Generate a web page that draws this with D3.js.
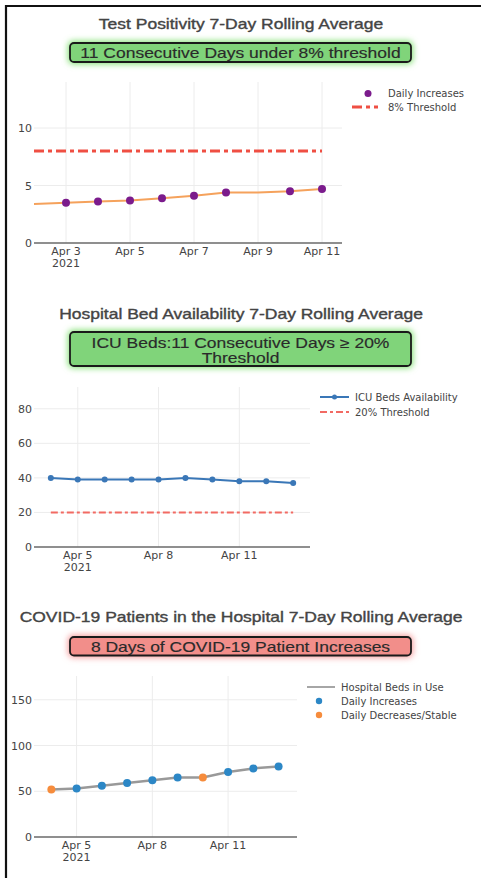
<html lang="en">
  <head>
    <meta charset="UTF-8" />
    <title>COVID-19 7-Day Rolling Averages</title>
    <script src="https://d3js.org/d3.v7.min.js"></script>
  </head>
  <style>
    body {
      margin: 0;
      background: white;
    }

    .title {
      font-family: "Liberation Sans", Arial, sans-serif;
      font-size: 14px;
      fill: #444;
      stroke: #444;
      stroke-width: 0.35px;
      text-anchor: middle;
    }

    .badge-text {
      font-family: "Liberation Sans", Arial, sans-serif;
      font-size: 14px;
      fill: #2a2a2a;
      stroke: #2a2a2a;
      stroke-width: 0.15px;
      text-anchor: middle;
    }

    .tick-text {
      font-family: "DejaVu Sans", Verdana, sans-serif;
      font-size: 11px;
      fill: #444;
    }

    .legend-text {
      font-family: "DejaVu Sans", Verdana, sans-serif;
      font-size: 10px;
      fill: #444;
    }
  </style>
  <body>
    <div id="viz"></div>
  </body>
  <footer>
    <script>
      // test positivity
      var posDates = ["2021-04-02", "2021-04-03", "2021-04-04", "2021-04-05", "2021-04-06",
        "2021-04-07", "2021-04-08", "2021-04-09", "2021-04-10", "2021-04-11"];
      var posValues = [3.4, 3.5, 3.6, 3.7, 3.9, 4.1, 4.4, 4.4, 4.5, 4.7];
      var posIncrease = [false, true, true, true, true, true, true, false, true, true];
      var posThreshold = 8;
      var posTicksX = ["2021-04-03", "2021-04-05", "2021-04-07", "2021-04-09", "2021-04-11"];
      var posTicksY = [0, 5, 10];

      // icu beds
      var icuDates = ["2021-04-04", "2021-04-05", "2021-04-06", "2021-04-07", "2021-04-08",
        "2021-04-09", "2021-04-10", "2021-04-11", "2021-04-12", "2021-04-13"];
      var icuValues = [40, 39, 39, 39, 39, 40, 39, 38, 38, 37];
      var icuThreshold = 20;
      var icuTicksX = ["2021-04-05", "2021-04-08", "2021-04-11"];
      var icuTicksY = [0, 20, 40, 60, 80];

      // covid patients in hospital
      var bedDates = icuDates;
      var bedValues = [52, 53, 56, 59, 62, 65, 65, 71, 75, 77];
      var bedIncrease = [false, true, true, true, true, true, false, true, true, true];
      var bedTicksX = ["2021-04-05", "2021-04-08", "2021-04-11"];
      var bedTicksY = [0, 50, 100, 150];

      var parse = d3.timeParse("%Y-%m-%d");
      var hour = 3600 * 1000;

      var svg = d3.select("#viz").append("svg")
        .attr("width", 481)
        .attr("height", 878);

      var defs = svg.append("defs");
      var glow = defs.append("filter")
        .attr("id", "glow")
        .attr("x", "-20%").attr("y", "-80%")
        .attr("width", "140%").attr("height", "260%");
      glow.append("feGaussianBlur").attr("stdDeviation", 3);

      // page frame
      svg.append("path")
        .attr("d", "M6,878 V6 H481")
        .style("fill", "none")
        .style("stroke", "#111")
        .style("stroke-width", 2.2);

      // the headings in the picture are drawn wide, so stretch them a bit
      function wideText(cls, x, y, str) {
        svg.append("text")
          .attr("class", cls)
          .attr("transform", "translate(" + x + "," + y + ") scale(1.25,1)")
          .text(str);
      }

      function badge(lines, y0, h, fill, glowColor, textY) {
        svg.append("rect")
          .attr("x", 68).attr("y", y0 - 2)
          .attr("width", 345).attr("height", h + 4)
          .attr("rx", 5)
          .style("fill", glowColor)
          .attr("filter", "url(#glow)");
        svg.append("rect")
          .attr("x", 70).attr("y", y0)
          .attr("width", 341).attr("height", h)
          .attr("rx", 4)
          .style("fill", fill)
          .style("stroke", "#1a1a1a")
          .style("stroke-width", 1.8);
        lines.forEach(function (d, i) {
          wideText("badge-text", 240.5, textY + i * 15, d);
        });
      }

      function axes(x, y, ticksX, ticksY, top, bottom, left, right) {
        var g = svg.append("g");
        g.selectAll("line.vgrid")
          .data(ticksX)
          .enter()
          .append("line")
          .attr("x1", function (d) { return x(parse(d)); })
          .attr("x2", function (d) { return x(parse(d)); })
          .attr("y1", top).attr("y2", bottom)
          .style("stroke", "#ececec");
        g.selectAll("line.hgrid")
          .data(ticksY.filter(function (d) { return d > 0; }))
          .enter()
          .append("line")
          .attr("x1", left).attr("x2", right)
          .attr("y1", function (d) { return y(d); })
          .attr("y2", function (d) { return y(d); })
          .style("stroke", "#ececec");
        g.append("line")
          .attr("x1", left).attr("x2", right)
          .attr("y1", y(0)).attr("y2", y(0))
          .style("stroke", "#6a6a6a")
          .style("stroke-width", 1.3);
        g.selectAll("text.ytick")
          .data(ticksY)
          .enter()
          .append("text")
          .attr("class", "tick-text")
          .attr("x", left - 2)
          .attr("y", function (d) { return y(d) + 4; })
          .style("text-anchor", "end")
          .text(function (d) { return d; });
        var fmt = d3.timeFormat("Apr %-d");
        g.selectAll("text.xtick")
          .data(ticksX)
          .enter()
          .append("text")
          .attr("class", "tick-text")
          .attr("x", function (d) { return x(parse(d)); })
          .attr("y", bottom + 11.5)
          .style("text-anchor", "middle")
          .text(function (d) { return fmt(parse(d)); });
        g.append("text")
          .attr("class", "tick-text")
          .attr("x", x(parse(ticksX[0])))
          .attr("y", bottom + 23.5)
          .style("text-anchor", "middle")
          .text("2021");
      }

      function dashLine(x, y, dates, value, color, width, dash) {
        svg.append("line")
          .attr("x1", x(parse(dates[0])))
          .attr("x2", x(parse(dates[dates.length - 1])))
          .attr("y1", y(value)).attr("y2", y(value))
          .style("stroke", color)
          .style("stroke-width", width)
          .style("stroke-dasharray", dash);
      }

      // ---------- chart 1: test positivity ----------
      wideText("title", 241, 29, "Test Positivity 7-Day Rolling Average");
      badge(["11 Consecutive Days under 8% threshold"], 43, 19, "#80d47a", "#7fe06f", 57.5);

      var x1 = d3.scaleTime()
        .domain([parse("2021-04-02"), new Date(parse("2021-04-11").getTime() + 15 * hour)])
        .range([34, 342]);
      var y1 = d3.scaleLinear().domain([0, 14]).range([243, 82]);
      axes(x1, y1, posTicksX, posTicksY, 82, 243, 34, 342);

      dashLine(x1, y1, posDates, posThreshold, "#ef4f43", 3, "10,4,4,4");

      var posData = posDates.map(function (d, i) {
        return { date: parse(d), value: posValues[i], up: posIncrease[i] };
      });
      svg.append("path")
        .datum(posData)
        .attr("d", d3.line()
          .x(function (d) { return x1(d.date); })
          .y(function (d) { return y1(d.value); }))
        .style("fill", "none")
        .style("stroke", "#f5a25c")
        .style("stroke-width", 2);
      svg.selectAll("circle.pos")
        .data(posData.filter(function (d) { return d.up; }))
        .enter()
        .append("circle")
        .attr("class", "pos")
        .attr("cx", function (d) { return x1(d.date); })
        .attr("cy", function (d) { return y1(d.value); })
        .attr("r", 4)
        .style("fill", "#7b1b8c");

      svg.append("circle").attr("cx", 368).attr("cy", 93.5).attr("r", 3.5).style("fill", "#7b1b8c");
      svg.append("text").attr("class", "legend-text").attr("x", 388).attr("y", 97).text("Daily Increases");
      svg.append("line").attr("x1", 352).attr("x2", 378).attr("y1", 107).attr("y2", 107)
        .style("stroke", "#ef4f43").style("stroke-width", 3).style("stroke-dasharray", "10,4,4,4");
      svg.append("text").attr("class", "legend-text").attr("x", 388).attr("y", 111).text("8% Threshold");

      // ---------- chart 2: ICU beds ----------
      wideText("title", 241, 318.5, "Hospital Bed Availability 7-Day Rolling Average");
      badge(["ICU Beds:11 Consecutive Days \u2265 20%", "Threshold"], 332, 34, "#80d47a", "#7fe06f", 348);

      var x2 = d3.scaleTime()
        .domain([new Date(parse("2021-04-04").getTime() - 15 * hour), new Date(parse("2021-04-13").getTime() + 15 * hour)])
        .range([34, 310]);
      var y2 = d3.scaleLinear().domain([0, 92.6]).range([547, 387]);
      axes(x2, y2, icuTicksX, icuTicksY, 387, 547, 34, 310);

      dashLine(x2, y2, icuDates, icuThreshold, "#f26a63", 2, "7,3,3,3");

      var icuData = icuDates.map(function (d, i) { return { date: parse(d), value: icuValues[i] }; });
      svg.append("path")
        .datum(icuData)
        .attr("d", d3.line()
          .x(function (d) { return x2(d.date); })
          .y(function (d) { return y2(d.value); }))
        .style("fill", "none")
        .style("stroke", "#3a77b7")
        .style("stroke-width", 2);
      svg.selectAll("circle.icu")
        .data(icuData)
        .enter()
        .append("circle")
        .attr("class", "icu")
        .attr("cx", function (d) { return x2(d.date); })
        .attr("cy", function (d) { return y2(d.value); })
        .attr("r", 3)
        .style("fill", "#3a77b7");

      svg.append("line").attr("x1", 320).attr("x2", 349).attr("y1", 397).attr("y2", 397)
        .style("stroke", "#3a77b7").style("stroke-width", 2);
      svg.append("circle").attr("cx", 334.5).attr("cy", 397).attr("r", 2.5).style("fill", "#3a77b7");
      svg.append("text").attr("class", "legend-text").attr("x", 355).attr("y", 400.5).text("ICU Beds Availability");
      svg.append("line").attr("x1", 320).attr("x2", 349).attr("y1", 412).attr("y2", 412)
        .style("stroke", "#f26a63").style("stroke-width", 2).style("stroke-dasharray", "7,3,3,3");
      svg.append("text").attr("class", "legend-text").attr("x", 355).attr("y", 415.5).text("20% Threshold");

      // ---------- chart 3: COVID-19 patients ----------
      wideText("title", 241, 622, "COVID-19 Patients in the Hospital 7-Day Rolling Average");
      badge(["8 Days of COVID-19 Patient Increases"], 637, 18.5, "#f28e8a", "#f59a9a", 651.5);

      var x3 = d3.scaleTime()
        .domain([new Date(parse("2021-04-04").getTime() - 16.5 * hour), new Date(parse("2021-04-13").getTime() + 17.5 * hour)])
        .range([34, 297]);
      var y3 = d3.scaleLinear().domain([0, 176]).range([837, 676]);
      axes(x3, y3, bedTicksX, bedTicksY, 676, 837, 34, 297);

      var bedData = bedDates.map(function (d, i) {
        return { date: parse(d), value: bedValues[i], up: bedIncrease[i] };
      });
      svg.append("path")
        .datum(bedData)
        .attr("d", d3.line()
          .x(function (d) { return x3(d.date); })
          .y(function (d) { return y3(d.value); }))
        .style("fill", "none")
        .style("stroke", "#999")
        .style("stroke-width", 2.5);
      svg.selectAll("circle.bed")
        .data(bedData)
        .enter()
        .append("circle")
        .attr("class", "bed")
        .attr("cx", function (d) { return x3(d.date); })
        .attr("cy", function (d) { return y3(d.value); })
        .attr("r", 4)
        .style("fill", function (d) { return d.up ? "#2c87c6" : "#f68c3c"; });

      svg.append("line").attr("x1", 307).attr("x2", 335).attr("y1", 687).attr("y2", 687)
        .style("stroke", "#888").style("stroke-width", 1.5);
      svg.append("text").attr("class", "legend-text").attr("x", 341).attr("y", 690.5).text("Hospital Beds in Use");
      svg.append("circle").attr("cx", 319).attr("cy", 701).attr("r", 3.2).style("fill", "#2c87c6");
      svg.append("text").attr("class", "legend-text").attr("x", 341).attr("y", 704.5).text("Daily Increases");
      svg.append("circle").attr("cx", 319).attr("cy", 715).attr("r", 3.2).style("fill", "#f68c3c");
      svg.append("text").attr("class", "legend-text").attr("x", 341).attr("y", 718.5).text("Daily Decreases/Stable");
    </script>
  </footer>
</html>
